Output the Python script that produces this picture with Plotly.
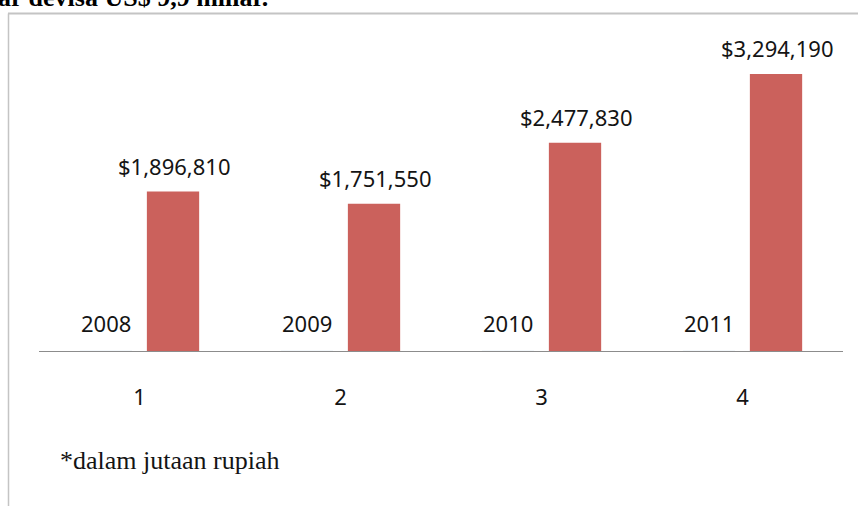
import plotly.graph_objects as go

# ---- data ----
categories = ["1", "2", "3", "4"]
years = ["2008", "2009", "2010", "2011"]
values = [1896810, 1751550, 2477830, 3294190]
value_labels = ["$1,896,810", "$1,751,550", "$2,477,830", "$3,294,190"]
footnote = "*dalam jutaan rupiah"
header_text = "ar devisa US$ 9,9 miliar."

W, H = 858, 506
ML, MR, MT, MB = 39, 15, 31, 155
PW, PH = W - ML - MR, H - MT - MB


def px(x):
    return (x - ML) / PW


def py(y):
    return (H - MB - y) / PH


BAR = "#CB615C"
TXT = "#141414"
NUM_FONT = dict(family="Noto Sans", size=22, color=TXT)

fig = go.Figure()
# phantom series (years) – no fill, like the original
fig.add_trace(go.Bar(x=categories, y=[0, 0, 0, 0], name="Tahun",
                     marker=dict(color="rgba(0,0,0,0)"), hoverinfo="skip",
                     showlegend=False))
fig.add_trace(go.Bar(x=categories, y=values, name="Nilai",
                     marker=dict(color=BAR, line=dict(width=0)),
                     showlegend=False))

annotations = []
for i, yr in enumerate(years):
    annotations.append(dict(x=i, y=0, xref="x", yref="y", text=yr,
                            showarrow=False, xshift=-34, yshift=11,
                            yanchor="bottom", xanchor="center", font=NUM_FONT))
for i, (v, lab) in enumerate(zip(values, value_labels)):
    annotations.append(dict(x=i, y=v, xref="x", yref="y", text=lab,
                            showarrow=False, xshift=34, yshift=9,
                            yanchor="bottom", xanchor="center", font=NUM_FONT))

annotations.append(dict(x=px(58), y=py(477), xref="paper", yref="paper",
                        text=footnote, showarrow=False, xanchor="left",
                        yanchor="bottom",
                        font=dict(family="Liberation Serif", size=26, color=TXT)))
annotations.append(dict(x=px(-4), y=py(14), xref="paper", yref="paper",
                        text="<b>" + header_text + "</b>", showarrow=False,
                        xanchor="left", yanchor="bottom",
                        font=dict(family="Liberation Serif", size=26, color="#000")))

shapes = [
    dict(type="line", xref="paper", yref="paper", x0=px(8.5), x1=px(8.5),
         y0=py(H + 5), y1=py(13.5), line=dict(color="#c4c4c4", width=1.5)),
    dict(type="line", xref="paper", yref="paper", x0=px(8), x1=px(W + 5),
         y0=py(13.5), y1=py(13.5), line=dict(color="#c4c4c4", width=2)),
]

fig.update_layout(
    width=W, height=H,
    margin=dict(l=ML, r=MR, t=MT, b=MB, pad=0),
    paper_bgcolor="white", plot_bgcolor="white",
    barmode="group", bargap=0.333, bargroupgap=0.22,
    annotations=annotations, shapes=shapes,
    xaxis=dict(type="category", range=[-0.5, 3.5], showline=True,
               linecolor="#8c8c8c", linewidth=1,
               showgrid=False, ticks="", tickfont=NUM_FONT, zeroline=False,
               ticklabelstandoff=27, fixedrange=True),
    yaxis=dict(range=[0, 3807000], visible=False, showgrid=False,
               zeroline=False, fixedrange=True),
    showlegend=False,
)

fig.write_html("out.html")
